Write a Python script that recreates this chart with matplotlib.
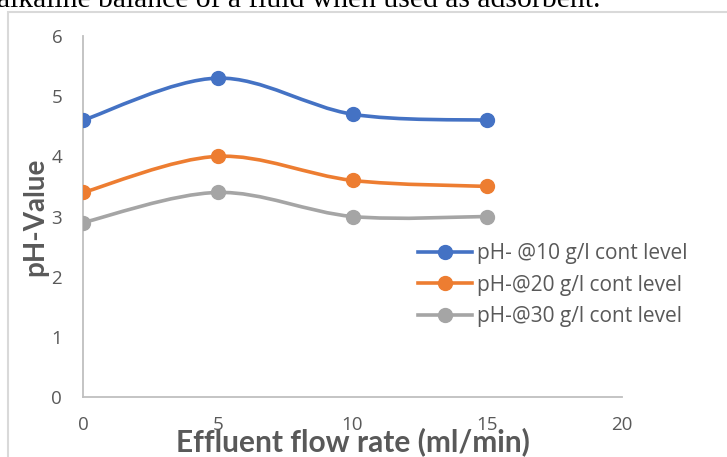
import matplotlib
matplotlib.use("Agg")
import matplotlib.pyplot as plt
from matplotlib.path import Path
from matplotlib.patches import PathPatch, Rectangle
from matplotlib.lines import Line2D

# data
flow_rate = [0, 5, 10, 15]
ph_10 = [4.6, 5.3, 4.7, 4.6]
ph_20 = [3.4, 4.0, 3.6, 3.5]
ph_30 = [2.9, 3.4, 3.0, 3.0]
labels = ["pH- @10 g/l cont level", "pH-@20 g/l cont level", "pH-@30 g/l cont level"]
colors = ["#4472C4", "#ED7D31", "#A5A5A5"]

plt.rcParams['font.family'] = ['Open Sans', 'DejaVu Sans']
txt = "#595959"


def smooth_path(xs, ys):
    # excel-like smoothed line: cubic bezier through every point
    verts = [(xs[0], ys[0])]
    codes = [Path.MOVETO]
    n = len(xs)
    for i in range(n - 1):
        x0, y0 = (xs[i - 1], ys[i - 1]) if i > 0 else (xs[i], ys[i])
        x3, y3 = (xs[i + 2], ys[i + 2]) if i + 2 < n else (xs[i + 1], ys[i + 1])
        c1 = (xs[i] + (xs[i + 1] - x0) / 6, ys[i] + (ys[i + 1] - y0) / 6)
        c2 = (xs[i + 1] - (x3 - xs[i]) / 6, ys[i + 1] - (y3 - ys[i]) / 6)
        verts += [c1, c2, (xs[i + 1], ys[i + 1])]
        codes += [Path.CURVE4] * 3
    return Path(verts, codes)


fig = plt.figure(figsize=(7.27, 4.57), dpi=100)
ax = fig.add_axes([83 / 727, 1 - 397 / 457, 539 / 727, 361 / 457])

# chart area border and the clipped caption above it
fig.patches.append(Rectangle((8 / 727, -0.1), 1.2, 1 - 12 / 457 + 0.1, transform=fig.transFigure,
                             fill=False, edgecolor="#D9D9D9", linewidth=1.5))
fig.text(-0.004, 1 - 7 / 457, "alkaline balance of a fluid when used as adsorbent.",
         family="Liberation Serif", fontsize=21.3, va="baseline", ha="left", color="black")

handles = []
for ys, c, lab in zip([ph_10, ph_20, ph_30], colors, labels):
    ax.add_patch(PathPatch(smooth_path(flow_rate, ys), fill=False, edgecolor=c,
                           linewidth=2.6, capstyle="round", zorder=2))
    ax.plot(flow_rate, ys, "o", color=c, markersize=10, zorder=3)
    handles.append(Line2D([], [], color=c, linewidth=2.6, marker="o", markersize=10))

ax.set_xlim(0, 20)
ax.set_ylim(0, 6)
ax.set_xticks([0, 5, 10, 15, 20])
ax.set_yticks([0, 1, 2, 3, 4, 5, 6])
ax.tick_params(length=0, labelsize=13.5, labelcolor=txt)
ax.tick_params(axis="y", pad=15)
ax.tick_params(axis="x", pad=14)
for s in ["top", "right"]:
    ax.spines[s].set_visible(False)
for s in ["left", "bottom"]:
    ax.spines[s].set_color("#BFBFBF")
    ax.spines[s].set_linewidth(1.3)

ax.set_xlabel("Effluent flow rate (ml/min)", fontsize=21.5, fontweight="bold", color=txt,
              family=["Lato", "DejaVu Sans"])
ax.xaxis.set_label_coords(0.5, -54 / 361)
ax.xaxis.label.set_va("baseline")
ax.set_ylabel("pH-Value", fontsize=20, fontweight="bold", color=txt, family=["Lato", "DejaVu Sans"])
ax.yaxis.set_label_coords(-48 / 539, 0.5)
ax.yaxis.label.set_va("center")

ax.legend(handles, labels, loc="center left", bbox_to_anchor=(418 / 727, 1 - 285 / 457),
          bbox_transform=fig.transFigure, frameon=False, fontsize=15, labelcolor=txt,
          handlelength=2.6, handletextpad=0.24, labelspacing=0.5, borderpad=0, borderaxespad=0)

fig.savefig("out.png", dpi=100)
